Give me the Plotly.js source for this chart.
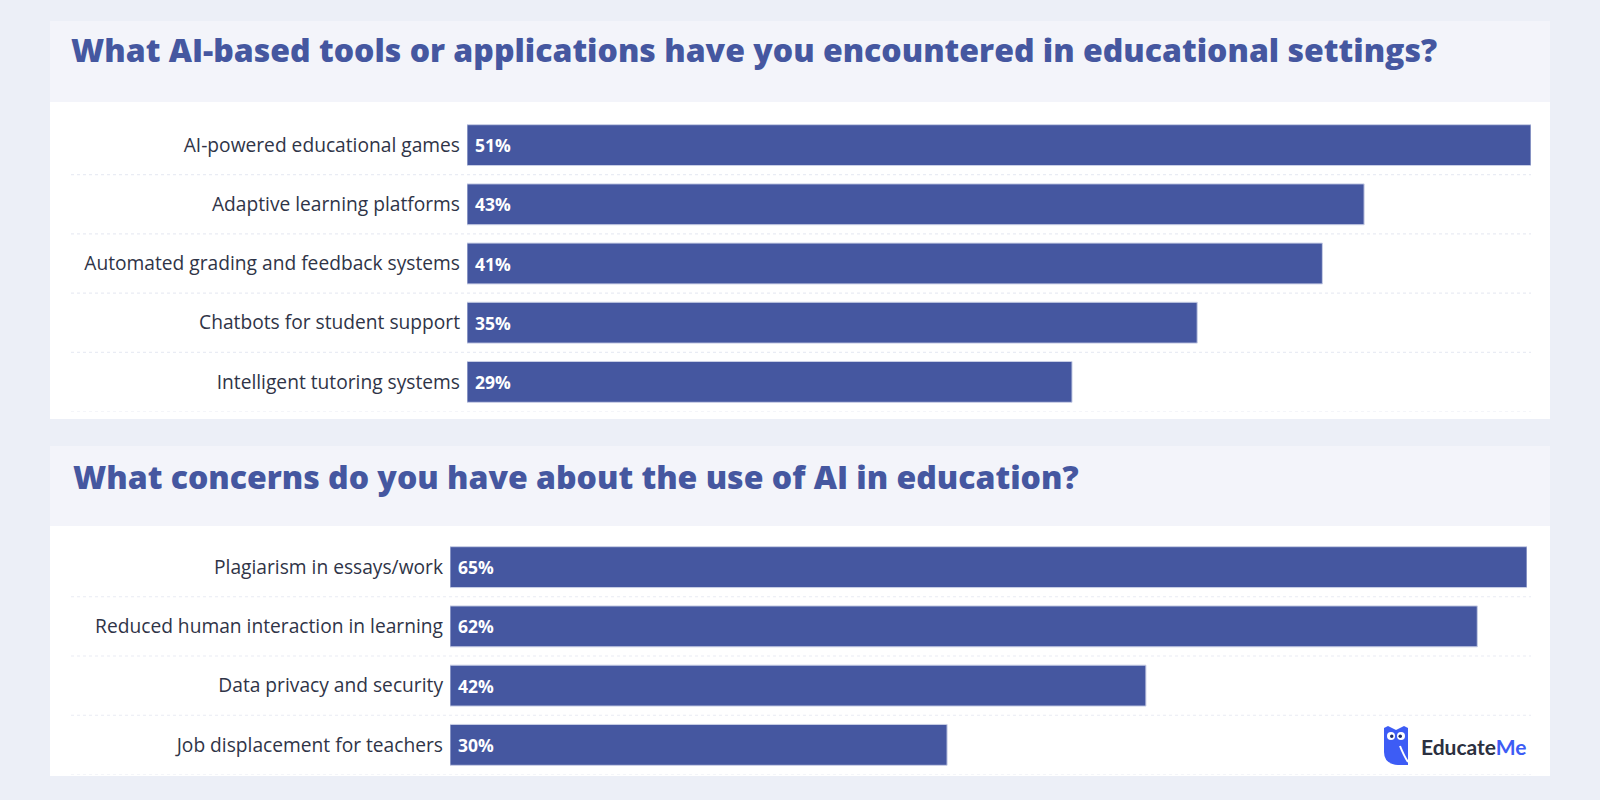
<!DOCTYPE html>
<html>
<head>
<meta charset="utf-8">
<script src="https://cdn.plot.ly/plotly-3.0.1.min.js"></script>
<style>
html,body{margin:0;padding:0;background:#eceff7;}
#chart{width:1600px;height:800px;}
</style>
</head>
<body>
<div id="chart"></div>
<script>
// ---- Data ----
const title1 = "What AI-based tools or applications have you encountered in educational settings?";
const tools = ["AI-powered educational games","Adaptive learning platforms","Automated grading and feedback systems","Chatbots for student support","Intelligent tutoring systems"];
const toolValues = [51, 43, 41, 35, 29];

const title2 = "What concerns do you have about the use of AI in education?";
const concerns = ["Plagiarism in essays/work","Reduced human interaction in learning","Data privacy and security","Job displacement for teachers"];
const concernValues = [65, 62, 42, 30];

// ---- Styling ----
const BAR = "#4557a0";
const TITLE_C = "#4557a0";
const LABEL_C = "#2f3447";
const BG = "#eceff7";
const HEAD = "#f3f4fa";
const W = 1600, H = 800;
const px = v => v / W;
const py = v => 1 - v / H;

const labelFont = {family: "'Open Sans', Lato, sans-serif", size: 19.2, color: LABEL_C};
const valFont = {family: "'Open Sans', Lato, sans-serif", size: 17.5, color: "#ffffff", weight: 700};
const titleFont = {family: "'Open Sans', Lato, sans-serif", size: 32, color: TITLE_C, weight: 800};

const traces = [
  {
    type: "bar", orientation: "h",
    x: toolValues, y: tools,
    xaxis: "x", yaxis: "y",
    marker: {color: BAR, line: {color: "#c9cfe6", width: 1}},
    hoverinfo: "none"
  },
  {
    type: "bar", orientation: "h",
    x: concernValues, y: concerns,
    xaxis: "x2", yaxis: "y2",
    marker: {color: BAR, line: {color: "#c9cfe6", width: 1}},
    hoverinfo: "none"
  }
];

const shapes = [
  // top panel
  {type: "rect", xref: "paper", yref: "paper", x0: px(50), x1: px(1550), y0: py(21), y1: py(419), fillcolor: "#ffffff", line: {width: 0}, layer: "below"},
  {type: "rect", xref: "paper", yref: "paper", x0: px(50), x1: px(1550), y0: py(21), y1: py(102), fillcolor: HEAD, line: {width: 0}, layer: "below"},
  // bottom panel
  {type: "rect", xref: "paper", yref: "paper", x0: px(50), x1: px(1550), y0: py(446), y1: py(776), fillcolor: "#ffffff", line: {width: 0}, layer: "below"},
  {type: "rect", xref: "paper", yref: "paper", x0: px(50), x1: px(1550), y0: py(446), y1: py(526), fillcolor: HEAD, line: {width: 0}, layer: "below"}
];

// row separators (category boundaries)
tools.forEach((c, i) => {
  shapes.push({type: "line", xref: "paper", yref: "y", x0: px(71), x1: px(1531), y0: i + 0.5, y1: i + 0.5,
    line: {color: "#e9ecf4", width: 1.2, dash: "dot"}, layer: "below"});
});
concerns.forEach((c, i) => {
  shapes.push({type: "line", xref: "paper", yref: "y2", x0: px(71), x1: px(1531), y0: i + 0.5, y1: i + 0.5,
    line: {color: "#e9ecf4", width: 1.2, dash: "dot"}, layer: "below"});
});

// logo (owl icon)
const ix = 1384, iy = 726;
shapes.push({type: "path", xref: "paper", yref: "paper",
  path: `M ${px(ix)} ${py(iy+2)} L ${px(ix+4)} ${py(iy)} L ${px(ix+12)} ${py(iy+4)} L ${px(ix+20)} ${py(iy)} L ${px(ix+24)} ${py(iy+2)} L ${px(ix+24)} ${py(iy+39)} L ${px(ix+14)} ${py(iy+39)} Q ${px(ix)} ${py(iy+38)} ${px(ix)} ${py(iy+26)} Z`,
  fillcolor: "#3d5cf5", line: {width: 0}});
shapes.push({type: "circle", xref: "paper", yref: "paper", x0: px(ix+3), x1: px(ix+11), y0: py(iy+6), y1: py(iy+14), fillcolor: "#ffffff", line: {width: 0}});
shapes.push({type: "circle", xref: "paper", yref: "paper", x0: px(ix+13), x1: px(ix+21), y0: py(iy+6), y1: py(iy+14), fillcolor: "#ffffff", line: {width: 0}});
shapes.push({type: "circle", xref: "paper", yref: "paper", x0: px(ix+6), x1: px(ix+9.5), y0: py(iy+8.5), y1: py(iy+12), fillcolor: "#1d2b6b", line: {width: 0}});
shapes.push({type: "circle", xref: "paper", yref: "paper", x0: px(ix+14.5), x1: px(ix+18), y0: py(iy+8.5), y1: py(iy+12), fillcolor: "#1d2b6b", line: {width: 0}});
shapes.push({type: "path", xref: "paper", yref: "paper",
  path: `M ${px(ix+16)} ${py(iy+20)} Q ${px(ix+20)} ${py(iy+30)} ${px(ix+24)} ${py(iy+36)}`,
  line: {color: "#ffffff", width: 2}});

const annotations = [
  {xref: "paper", yref: "paper", x: px(71), y: py(476), xanchor: "left", yanchor: "middle", showarrow: false,
   text: title2, font: titleFont},
  {xref: "paper", yref: "paper", x: px(1419), y: py(746), xanchor: "left", yanchor: "middle", showarrow: false,
   text: "<b>Educate</b><b><span style='color:#3d5cf5'>Me</span></b>", font: {family: "Lato, sans-serif", size: 21, color: "#2b3040"}}
];
tools.forEach((c, i) => annotations.push({xref: "x", yref: "y", x: 0, y: c, xanchor: "left", yanchor: "middle",
  xshift: 6, showarrow: false, text: toolValues[i] + "%", font: valFont}));
concerns.forEach((c, i) => annotations.push({xref: "x2", yref: "y2", x: 0, y: c, xanchor: "left", yanchor: "middle",
  xshift: 6, showarrow: false, text: concernValues[i] + "%", font: valFont}));

const layout = {
  width: W, height: H,
  margin: {l: 0, r: 0, t: 0, b: 0},
  paper_bgcolor: BG,
  plot_bgcolor: "rgba(0,0,0,0)",
  showlegend: false,
  bargap: 0.31,
  title: {text: title1, x: px(71), xref: "paper", xanchor: "left", y: py(51), yref: "paper", yanchor: "middle",
          font: titleFont},
  xaxis: {domain: [px(467), px(1531)], range: [0, 51], visible: false, fixedrange: true, anchor: "y"},
  yaxis: {domain: [py(411.5), py(115.5)], type: "category", range: [4.5, -0.5], anchor: "x",
          showgrid: false, zeroline: false, showline: false, ticks: "", ticklabelstandoff: 6, tickfont: labelFont},
  xaxis2: {domain: [px(450), px(1527)], range: [0, 65], visible: false, fixedrange: true, anchor: "y2"},
  yaxis2: {domain: [py(774.5), py(537.5)], type: "category", range: [3.5, -0.5], anchor: "x2",
           showgrid: false, zeroline: false, showline: false, ticks: "", ticklabelstandoff: 6, tickfont: labelFont},
  shapes: shapes,
  annotations: annotations
};

Plotly.newPlot("chart", traces, layout, {displayModeBar: false, staticPlot: true});
</script>
</body>
</html>
